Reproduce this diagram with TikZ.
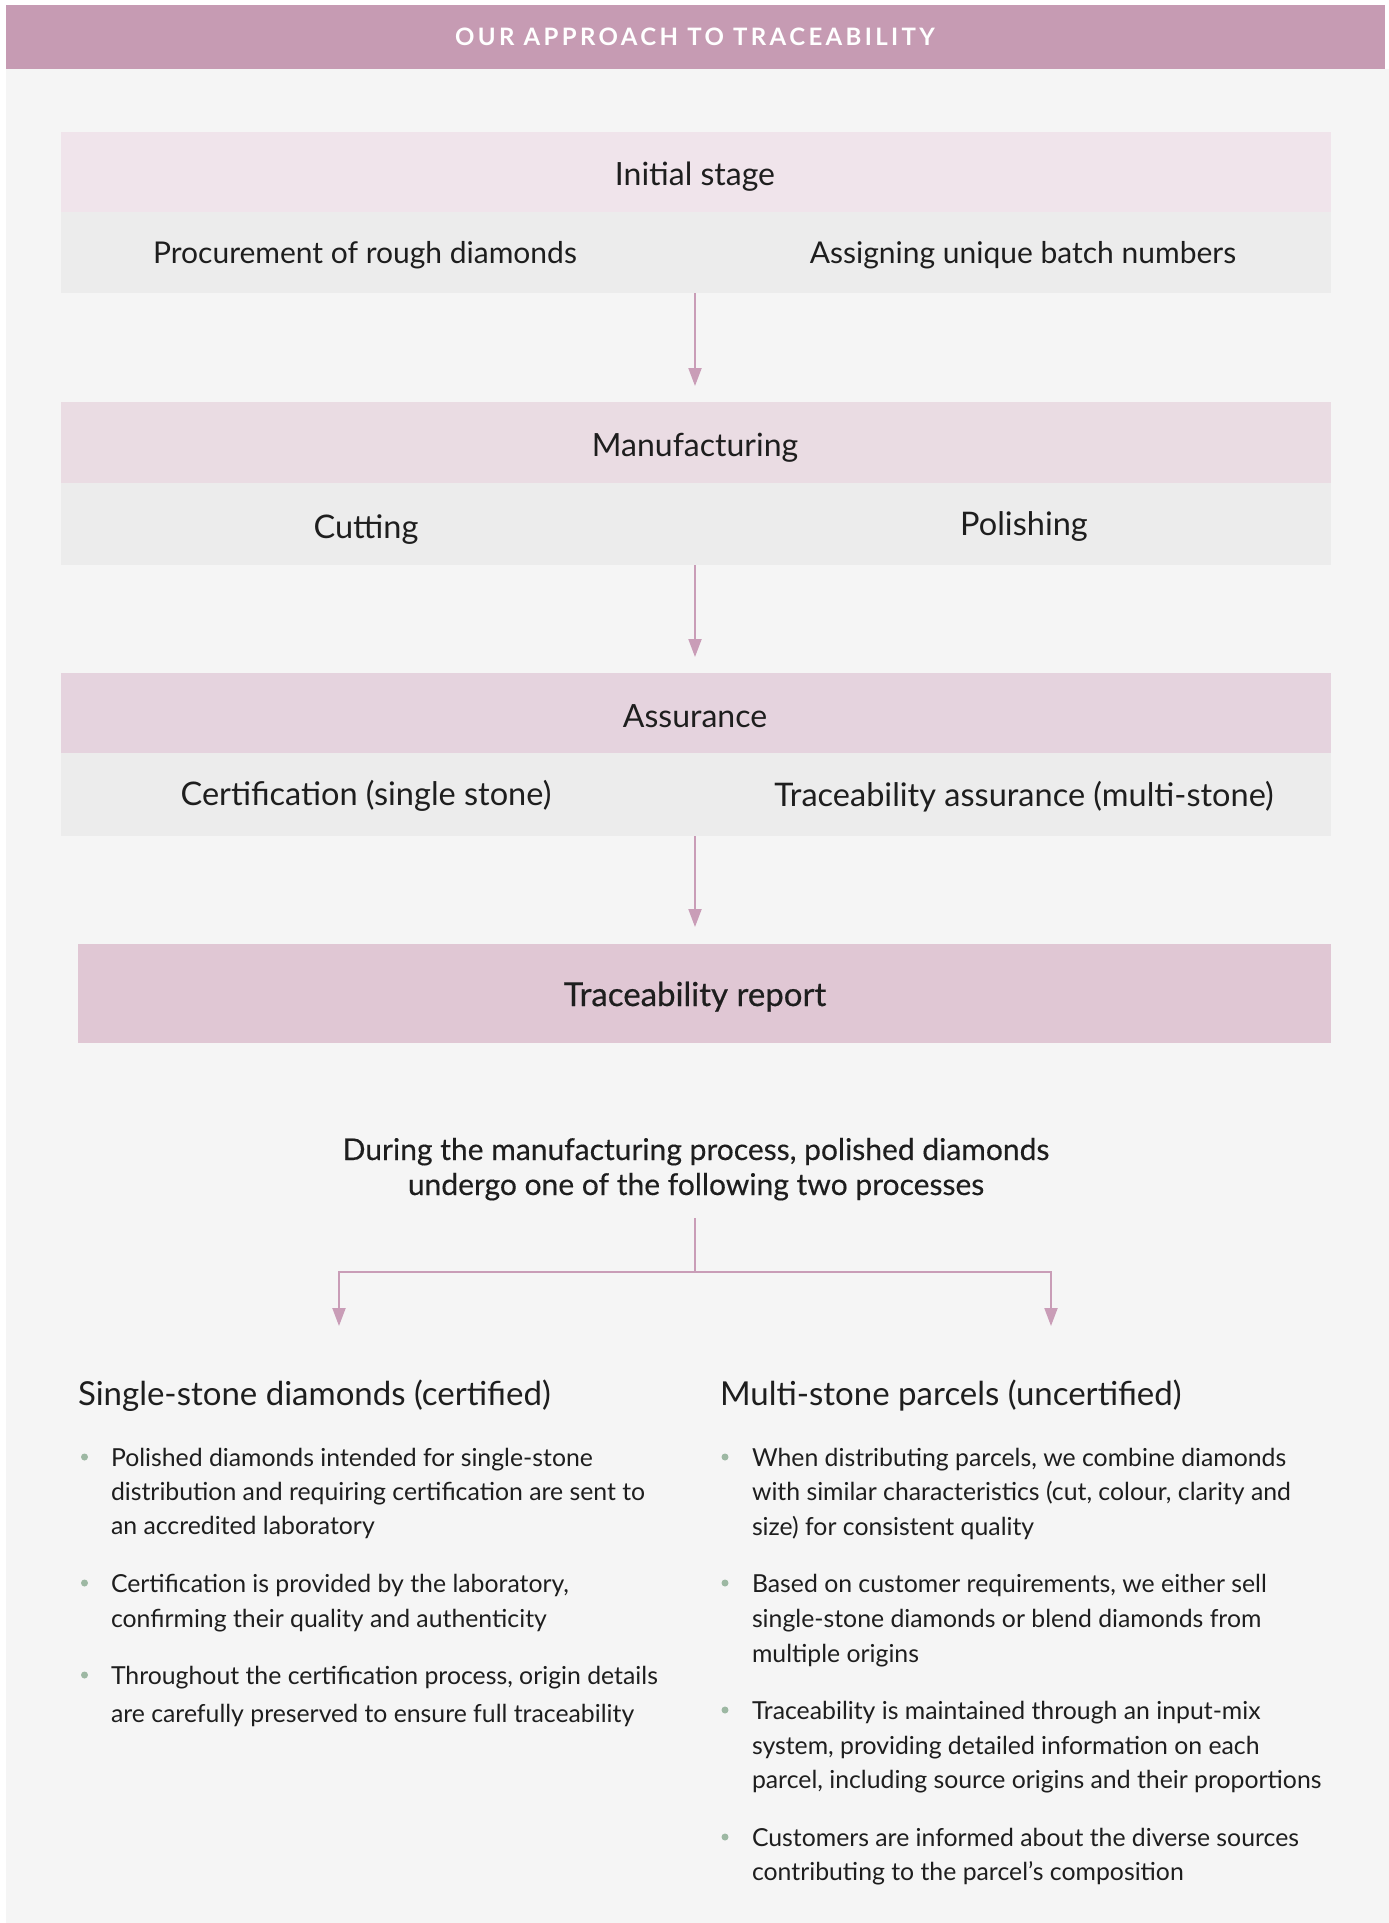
\documentclass[tikz,border=0pt]{standalone}
\usepackage{fontspec}
\setmainfont{Lato}
\usetikzlibrary{arrows.meta}

\definecolor{pagebg}{HTML}{F5F5F5}
\definecolor{headbar}{HTML}{C69BB3}
\definecolor{pinkA}{HTML}{F0E4EB}
\definecolor{pinkB}{HTML}{EADCE3}
\definecolor{pinkC}{HTML}{E5D3DE}
\definecolor{pinkD}{HTML}{E0C7D4}
\definecolor{rowgrey}{HTML}{ECECEC}
\definecolor{linkc}{HTML}{C99DB7}
\definecolor{dotc}{HTML}{9DB8A3}
\definecolor{ink}{HTML}{1E1E1E}

\tikzset{
  plain/.style={inner sep=0pt, outer sep=0pt},
  band/.style={plain, minimum width=1270pt, minimum height=80pt},
  stagetext/.style={plain, anchor=base, text=ink, font=\fontsize{32}{38}\selectfont},
  rowtext/.style={plain, anchor=base, text=ink, font=\fontsize{30}{36}\selectfont},
  rowtextlg/.style={plain, anchor=base, text=ink, font=\fontsize{32.5}{38}\selectfont},
  arr/.style={draw=linkc, line width=2pt, -{Triangle[length=18pt,width=13pt]}},
  conn/.style={draw=linkc, line width=2pt},
  heading/.style={plain, anchor=base west, text=ink, font=\fontsize{33}{38}\selectfont},
  bul/.style={plain, anchor=base west, text=ink, font=\fontsize{24.8}{30}\selectfont},
  dot/.style={circle, fill=dotc, minimum size=7pt, inner sep=0pt},
}

\begin{document}
\begin{tikzpicture}[x=1pt,y=-1pt]
  % page
  \fill[white] (0,0) rectangle (1389,1923);
  \useasboundingbox (0,0) rectangle (1389,1923);
  \fill[pagebg] (6,69) rectangle (1389,1923);

  % title bar
  \node[plain, fill=headbar, minimum width=1379pt, minimum height=64pt] (title) at (695.5,37) {};
  \node[plain, text=white, font=\bfseries\fontsize{24}{28}\selectfont\addfontfeature{LetterSpace=14}]
        (titletext) at (695,37) {OUR APPROACH TO TRACEABILITY};

  % stage 1
  \node[band, fill=pinkA] (s1) at (696,172) {};
  \node[band, fill=rowgrey, minimum height=81pt] (s1r) at (696,252.5) {};
  \node[stagetext] (s1t) at (695,185) {Initial stage};
  \node[rowtext] (s1a) at (365,263) {Procurement of rough diamonds};
  \node[rowtext] (s1b) at (1023,263) {Assigning unique batch numbers};

  % stage 2
  \node[band, fill=pinkB, minimum height=81pt] (s2) at (696,442.5) {};
  \node[band, fill=rowgrey, minimum height=82pt] (s2r) at (696,524) {};
  \node[stagetext] (s2t) at (695,456) {Manufacturing};
  \node[rowtextlg] (s2a) at (366,538) {Cutting};
  \node[rowtextlg] (s2b) at (1024,535) {Polishing};

  % stage 3
  \node[band, fill=pinkC, minimum height=80pt] (s3) at (696,713) {};
  \node[band, fill=rowgrey, minimum height=83pt] (s3r) at (696,794.5) {};
  \node[stagetext] (s3t) at (695,727) {Assurance};
  \node[rowtextlg] (s3a) at (366,805) {Certification (single stone)};
  \node[rowtextlg] (s3b) at (1024,806) {Traceability assurance (multi-stone)};

  % report
  \node[plain, fill=pinkD, minimum width=1253pt, minimum height=99pt] (rep) at (704.5,993.5) {};
  \node[stagetext, font=\fontsize{33}{38}\selectfont\addfontfeature{FakeBold=0.5}] (rept) at (695,1006) {Traceability report};

  % flow arrows
  \draw[arr, shorten >=16pt] (s1r.south -| s1t) -- (s2.north -| s1t);
  \draw[arr, shorten >=16pt] (s2r.south -| s1t) -- (s3.north -| s1t);
  \draw[arr, shorten >=17pt] (s3r.south -| s1t) -- (rep.north -| s1t);

  % split note
  \node[plain, anchor=base, text=ink, font=\fontsize{30}{35}\selectfont\addfontfeature{FakeBold=0.3}] (note1) at (696,1160)
    {During the manufacturing process, polished diamonds};
  \node[plain, anchor=base, text=ink, font=\fontsize{30}{35}\selectfont\addfontfeature{FakeBold=0.3}] (note2) at (696,1195)
    {undergo one of the following two processes};

  \coordinate (forktop) at (695,1218);
  \coordinate (fork) at (695,1272);
  \coordinate (ltip) at (339,1326);
  \coordinate (rtip) at (1051,1326);
  \draw[conn] (forktop) -- (fork);
  \draw[arr] (fork) -| (ltip);
  \draw[arr] (fork) -| (rtip);

  % left column
  \node[heading] (hl) at (78,1405) {Single-stone diamonds (certified)};
  \node[dot] (dl1) at (84.5,1457) {};
  \node[bul] (l11) at (111,1466) {Polished diamonds intended for single-stone};
  \node[bul] (l12) at (111,1500) {distribution and requiring certification are sent to};
  \node[bul] (l13) at (111,1534) {an accredited laboratory};
  \node[dot] (dl2) at (84.5,1583) {};
  \node[bul] (l21) at (111,1592) {Certification is provided by the laboratory,};
  \node[bul] (l22) at (111,1627) {confirming their quality and authenticity};
  \node[dot] (dl3) at (84.5,1675) {};
  \node[bul] (l31) at (111,1684) {Throughout the certification process, origin details};
  \node[bul] (l32) at (111,1722) {are carefully preserved to ensure full traceability};

  % right column
  \node[heading] (hr) at (720,1405) {Multi-stone parcels (uncertified)};
  \node[dot] (dr1) at (725,1457) {};
  \node[bul] (r11) at (752,1466) {When distributing parcels, we combine diamonds};
  \node[bul] (r12) at (752,1500) {with similar characteristics (cut, colour, clarity and};
  \node[bul] (r13) at (752,1535) {size) for consistent quality};
  \node[dot] (dr2) at (725,1583) {};
  \node[bul] (r21) at (752,1592) {Based on customer requirements, we either sell};
  \node[bul] (r22) at (752,1627) {single-stone diamonds or blend diamonds from};
  \node[bul] (r23) at (752,1662) {multiple origins};
  \node[dot] (dr3) at (725,1710) {};
  \node[bul] (r31) at (752,1719) {Traceability is maintained through an input-mix};
  \node[bul] (r32) at (752,1754) {system, providing detailed information on each};
  \node[bul] (r33) at (752,1788) {parcel, including source origins and their proportions};
  \node[dot] (dr4) at (725,1837) {};
  \node[bul] (r41) at (752,1846) {Customers are informed about the diverse sources};
  \node[bul] (r42) at (752,1880) {contributing to the parcel’s composition};
\end{tikzpicture}
\end{document}
